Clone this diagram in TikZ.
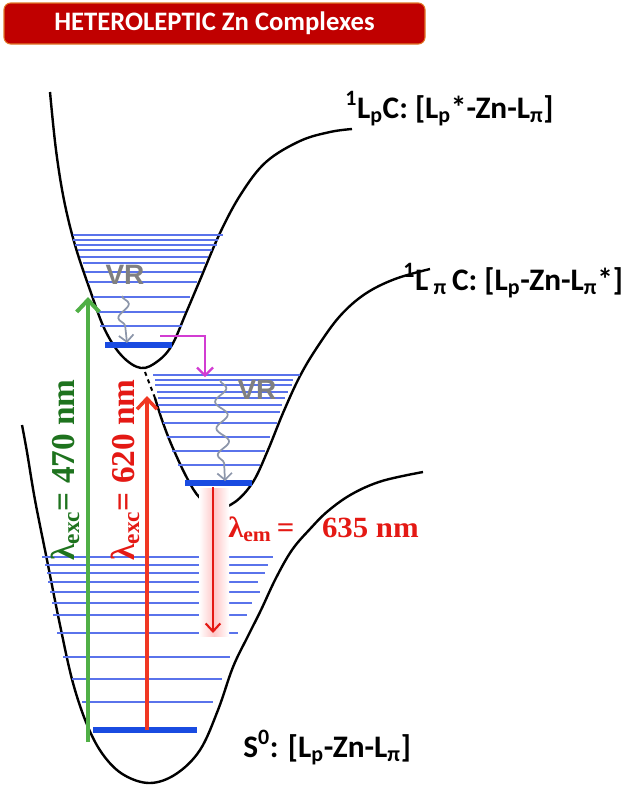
\documentclass[tikz,border=0pt]{standalone}
\usepackage{fontspec}
\setsansfont{Carlito}
\newfontfamily\timesbf{Liberation Serif}
\newfontfamily\arialbf{Liberation Sans}
\usepackage{tikz}
\usetikzlibrary{arrows.meta,decorations.pathmorphing}

\definecolor{titlered}{RGB}{192,0,0}
\definecolor{titleedge}{RGB}{225,120,40}
\definecolor{vibblue}{RGB}{90,115,235}
\definecolor{levblue}{RGB}{25,75,225}
\definecolor{vrgray}{RGB}{140,150,170}
\definecolor{excgreen}{RGB}{80,175,70}
\definecolor{labgreen}{RGB}{30,115,30}
\definecolor{excred}{RGB}{240,55,35}
\definecolor{labred}{RGB}{228,25,20}
\definecolor{iscmag}{RGB}{210,60,210}

\begin{document}
\begin{tikzpicture}[x=0.75pt, y=-0.75pt,
    pes/.style={line width=1.8pt, black},
    vib/.style={line width=1.3pt, vibblue},
    vib0/.style={line width=3.8pt, levblue},
    vrwave/.style={vrgray, line width=1.3pt, decorate,
        decoration={snake, amplitude=4.5pt, segment length=20pt, post length=7pt},
        -{Straight Barb[length=5pt, width=11pt]}},
    lab/.style={font=\sffamily\bfseries\fontsize{23.5}{27}\selectfont, inner sep=0pt},
    vrlab/.style={font=\arialbf\bfseries\fontsize{21}{24}\selectfont, text=gray, inner sep=0pt},
    wavelab/.style={font=\timesbf\bfseries\fontsize{25}{28}\selectfont, inner sep=0pt}]

    \useasboundingbox (0,0) rectangle (624,790);

    % =====================================================
    % TITLE
    % =====================================================
    \node[draw=titleedge, fill=titlered, rounded corners=5pt, line width=0.8pt,
          minimum width=315.75pt, minimum height=30.75pt, text=white,
          font=\sffamily\bfseries\fontsize{20}{24}\selectfont] (title) at (214.5,23.5) {HETEROLEPTIC Zn Complexes};

    % =====================================================
    % POTENTIAL CURVES
    % =====================================================
    % 1LpC (upper)
    \draw[pes] plot[smooth, tension=0.6] coordinates {(50,92) (56,150) (64,200) (75,245) (90,290) (105,330) (122,356) (141,368) (158,361) (172,345) (186,313) (200,280) (220,233) (241,194) (266,162) (300,141) (330,132) (352,129)};
    % 1LpiC (middle)
    \draw[pes] plot[smooth, tension=0.6] coordinates {(155,398) (162,420) (172,446) (187,478) (200,498) (217,508) (235,502) (253,482) (268,450) (283,413) (300,376) (318,346) (340,316) (365,294) (395,279) (430,269)};
    \draw[black, line width=1.5pt, dashed] (145,372) -- (155,398);
    % S0 (ground)
    \draw[pes] plot[smooth, tension=0.6] coordinates {(22,425) (27,452) (35,500) (47,560) (60,625) (73,683) (88,727) (104,756) (124,775) (150,783) (176,774) (200,750) (218,710) (233,667) (248,636) (261,610) (276,578) (292,550) (310,529) (328,511) (352,494) (382,481) (423,472)};

    % =====================================================
    % VIBRATIONAL LEVELS
    % =====================================================
    \foreach \y/\a/\b in {235/73/223, 240/73/218, 245/75/217, 250/78/212, 257/80/208, 263/83/205, 272/85/202, 282/88/197, 297/93/190, 312/97/185, 326/100/182} {
        \draw[vib] (\a,\y) -- (\b,\y);
    }
    \draw[vib0] (105,345) -- (172,345);

    \foreach \y/\a/\b in {375/153/300, 380/155/293, 385/155/292, 392/157/288, 398/158/285, 405/158/282, 412/160/280, 423/163/277, 437/167/270, 451/172/265, 465/178/260} {
        \draw[vib] (\a,\y) -- (\b,\y);
    }
    \draw[vib0] (185,483) -- (252,483);

    \foreach \y/\a/\b in {557/42/273, 565/45/268, 573/47/265, 582/48/258, 592/50/260, 603/52/252, 615/53/247, 633/57/238, 657/63/230, 679/72/222, 702/82/213} {
        \draw[vib] (\a,\y) -- (\b,\y);
    }
    \draw[vib0] (93,730) -- (197,730);

    % =====================================================
    % TRANSITIONS
    % =====================================================
    \coordinate (g0) at (88,742);
    \coordinate (g1) at (88,297);
    \coordinate (r0) at (147,730);
    \coordinate (r1) at (147,396);
    \coordinate (e0) at (213,487);
    \coordinate (e1) at (213,633);
    \coordinate (m0) at (160,336);
    \coordinate (m1) at (205,377);
    \coordinate (w0) at (122,296);
    \coordinate (w1) at (127,343);
    \coordinate (v0) at (220,380);
    \coordinate (v1) at (225,481);

    % Emission glow
    \shade[left color=white, right color=white, middle color=red!22] (199,488) rectangle (229,636);

    % Excitation arrows
    \draw[excgreen, line width=3pt, -{Straight Barb[length=9pt, width=17pt, line width=3pt]}] (g0) -- (g1);
    \draw[excred, line width=2.6pt, -{Straight Barb[length=8pt, width=15pt, line width=2.6pt]}] (r0) -- (r1);

    % Emission arrow
    \draw[labred, line width=1.6pt, -{Straight Barb[length=6pt, width=11pt, line width=1.6pt]}] (e0) -- (e1);

    % Crossing (ISC)
    \draw[iscmag, line width=1.6pt, -{Straight Barb[length=6pt, width=12pt, line width=1.6pt]}] (m0) -| (m1);

    % Vibrational relaxation
    \draw[vrwave] (w0) -- (w1);
    \draw[vrwave] (v0) -- (v1);
    \node[vrlab] (vr1) at (125,275) {VR};
    \node[vrlab] (vr2) at (257,390) {VR};

    % =====================================================
    % LABELS
    % =====================================================
    \node[lab, anchor=base west] (upper) at (345,118) {\textsuperscript{1}L\textsubscript{p}C: [L\textsubscript{p}*-Zn-L\textsubscript{π}]};
    \node[lab, anchor=base west] (middle) at (403,290) {\textsuperscript{1}L\,\textsubscript{π}\,C: [L\textsubscript{p}-Zn-L\textsubscript{π}*]};
    \node[lab, anchor=base west] (ground) at (243,757) {S\textsuperscript{0}: [L\textsubscript{p}-Zn-L\textsubscript{π}]};

    \node[wavelab, text=labgreen, rotate=90] (exc1) at (65,470) {λ\textsubscript{exc}= 470 nm};
    \node[wavelab, text=labred, rotate=90] (exc2) at (125,470) {λ\textsubscript{exc}= 620 nm};
    \node[wavelab, text=labred, anchor=base west, xscale=1.05, font=\timesbf\bfseries\fontsize{22}{26}\selectfont] (emis) at (228,537) {λ\textsubscript{em}\,=\hspace{0.9em}635 nm};

\end{tikzpicture}
\end{document}
